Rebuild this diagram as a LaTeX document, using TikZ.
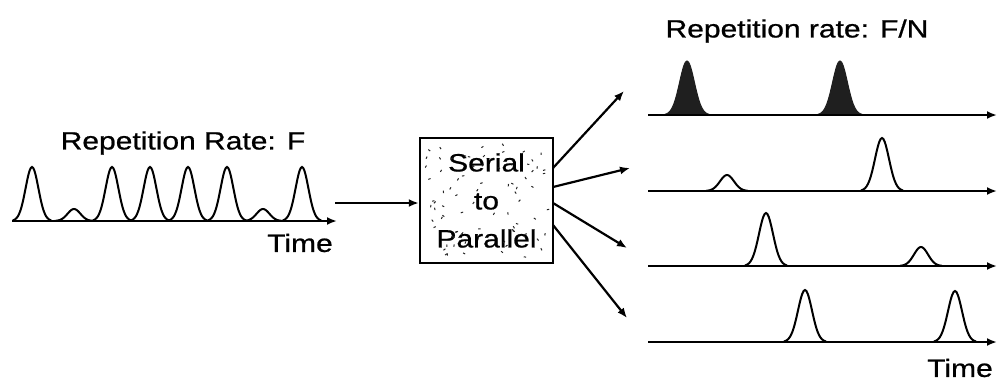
\documentclass[tikz,border=0pt]{standalone}
\usepackage{fontspec}
\setmainfont{Liberation Sans}[FakeStretch=1.2, FakeBold=0.8]
\usetikzlibrary{arrows.meta,calc}
\begin{document}
\begin{tikzpicture}[x=1pt,y=-1pt,
  lbl/.style={font=\fontsize{25}{28}\selectfont, inner sep=0pt},
  axisline/.style={line width=2.6pt,-{Latex[length=10pt,width=8pt]}},
  link/.style={line width=2.2pt,-{Latex[length=10pt,width=8pt]}},
  pulse/.style={line width=2pt},
  solidpulse/.style={line width=1pt, fill=black!88, draw=black!88}]
\useasboundingbox (0,0) rectangle (997,383);

% Gaussian pulse: centre, baseline, height, sigma
\newcommand{\pulseat}[5][pulse]{%
  \draw[#1] plot[smooth, domain=-3:3, samples=31, variable=\t]
    ({#2+#5*\t},{#3-#4*exp(-0.5*\t*\t)});}

% ---- serial input train ----
\coordinate (ina) at (12,221);
\coordinate (inb) at (337,221);
\foreach \c/\h in {32/54, 74/12, 112/54, 150/54, 188/54, 227/54, 263/12, 302/54}
  {\pulseat{\c}{221}{\h}{6.4}}
\draw[axisline] (ina) -- (inb);
\node[lbl] (rateF) at (183,143) {Repetition Rate: F};
\node[lbl, anchor=west] (timeL) at (267,243) {Time};

% ---- converter box ----
\node[draw, line width=2.4pt, minimum width=133pt, minimum height=125pt,
      inner sep=0pt, align=center, font=\fontsize{25}{38}\selectfont]
  (s2p) at (486.5,200.5) {Serial\\to\\Parallel};
% speckled texture inside the box
\pgfmathsetseed{7}
\foreach \i in {1,...,80}{
  \pgfmathsetmacro{\px}{426+rnd*121}
  \pgfmathsetmacro{\py}{144+rnd*113}
  \pgfmathsetmacro{\ang}{rnd*360}
  \draw[line width=1pt, black!85] (\px,\py) -- ++(\ang:2.4);
}

\coordinate (inarrow) at (335,203);
\draw[link] (inarrow) -- (s2p.west |- inarrow);

% ---- parallel outputs ----
\coordinate (o1) at (553,168);  \coordinate (t1) at (624,91);
\coordinate (o2) at (553,187);  \coordinate (t2) at (630,168);
\coordinate (o3) at (553,203);  \coordinate (t3) at (627,248);
\coordinate (o4) at (553,225);  \coordinate (t4) at (627,318);
\foreach \k in {1,...,4}{\draw[link] (o\k) -- (t\k);}

% channel 1 (filled pulses)
\pulseat[solidpulse]{687}{115}{54}{7.4}
\pulseat[solidpulse]{840}{115}{54}{7.4}
\coordinate (a1) at (648,115); \coordinate (b1) at (997,115);
\draw[axisline] (a1) -- (b1);
% channel 2
\pulseat{727}{191}{16}{7}
\pulseat{882}{191}{53}{7}
\coordinate (a2) at (648,191); \coordinate (b2) at (997,191);
\draw[axisline] (a2) -- (b2);
% channel 3
\pulseat{766}{266}{53}{7}
\pulseat{921}{266}{19}{7}
\coordinate (a3) at (648,266); \coordinate (b3) at (997,266);
\draw[axisline] (a3) -- (b3);
% channel 4
\pulseat{805}{342}{52}{7}
\pulseat{955}{342}{51}{7}
\coordinate (a4) at (648,342); \coordinate (b4) at (997,342);
\draw[axisline] (a4) -- (b4);

\node[lbl] (rateFN) at (797,31) {Repetition rate: F/N};
\node[lbl, anchor=east] (timeR) at (993,368) {Time};
\end{tikzpicture}
\end{document}
